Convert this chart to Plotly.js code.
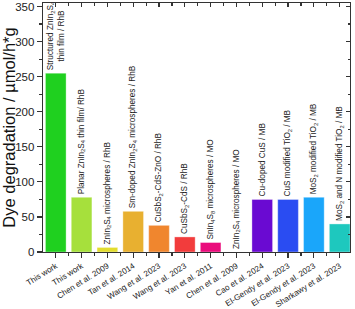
<!DOCTYPE html>
<html><head><meta charset="utf-8">
<script src="https://cdn.plot.ly/plotly-3.0.1.min.js"></script>
<style>html,body{margin:0;padding:0;background:#fff}#chart{width:355px;height:309px}</style>
</head><body><div id="chart"></div>
<script>
const categories = ["This work", "This work", "Chen et al. 2009", "Tan et al. 2014", "Wang et al. 2023", "Wang et al. 2023",
  "Yan et al. 2011", "Chen et al. 2009", "Cao et al. 2024", "El-Gendy et al. 2023", "El-Gendy et al. 2023", "Sharkawy et al. 2023"];
const values = [255, 78, 6.5, 58, 38, 21.5, 13.5, 0, 75, 75, 78, 40];
const barLabels = [
  "Structured ZnIn<sub>2</sub>S<sub>4</sub><br>thin film / RhB",
  "Planar ZnIn<sub>2</sub>S<sub>4</sub> thin film/ RhB",
  "ZnIn<sub>2</sub>S<sub>4</sub> microspheres / RhB",
  "Sm-doped ZnIn<sub>2</sub>S<sub>4</sub> microspheres / RhB",
  "CuSbS<sub>2</sub>-CdS-ZnO / RhB",
  "CuSbS<sub>2</sub>-CdS / RhB",
  "SnIn<sub>4</sub>S<sub>8</sub> microspheres / MO",
  "ZnIn<sub>2</sub>S<sub>4</sub> microspheres / MO",
  "Cu-doped CuS / MB",
  "CuS modified TiO<sub>2</sub> / MB",
  "MoS<sub>2</sub> modified TiO<sub>2</sub> / MB",
  "MoS<sub>2</sub> and N modified TiO<sub>2</sub> / MB"
];
const barColors = ["#1fd01f", "#a6e03c", "#e2dc2e", "#e8b030", "#f0862e", "#f23c3c",
  "#ea0c7c", "#cccccc", "#6a0ad2", "#2a4cf2", "#1aa6fa", "#1ec8be"];
const yTicks = [0, 50, 100, 150, 200, 250, 300, 350];
const yTitle = "Dye degradation / µmol/h*g";

const idx = categories.map((c, i) => i);
const xr = [-0.495, 11.4];
const yr = [0, 355];
const axisCol = "#333";

const bars = {
  type: "bar", x: idx, y: values,
  text: barLabels, textposition: "outside", textangle: -90,
  constraintext: "none", cliponaxis: false,
  textfont: {family: "Liberation Sans, Arial, sans-serif", size: 8.2, color: "#222"},
  marker: {color: barColors, line: {color: "rgba(255,255,255,0.35)", width: 1}},
  hoverinfo: "none", showlegend: false
};
const ghost = {type: "scatter", x: [], y: [], xaxis: "x2", yaxis: "y2", showlegend: false, hoverinfo: "none"};

const layout = {
  width: 355, height: 309,
  margin: {l: 43, r: 5, t: 3, b: 57, pad: 0},
  paper_bgcolor: "#fff", plot_bgcolor: "#fff",
  bargap: 0.2,
  font: {family: "Liberation Sans, Arial, sans-serif", color: "#222"},
  xaxis: {
    type: "linear", range: xr, tickmode: "array", tickvals: idx, ticktext: categories,
    tickangle: -32, tickfont: {size: 8.1, color: "#222"},
    ticks: "outside", ticklen: 5, tickwidth: 1.2, tickcolor: axisCol,
    minor: {tickmode: "linear", tick0: 0.5, dtick: 1, ticks: "outside", ticklen: 3, tickwidth: 1.2, tickcolor: axisCol, showgrid: false},
    showline: true, linecolor: axisCol, linewidth: 1.3, showgrid: false, zeroline: false, fixedrange: true
  },
  xaxis2: {
    type: "linear", overlaying: "x", side: "top", range: xr, tickmode: "array", tickvals: idx,
    showticklabels: false, ticks: "inside", ticklen: 4, tickwidth: 1.2, tickcolor: axisCol,
    minor: {tickmode: "linear", tick0: 0.5, dtick: 1, ticks: "inside", ticklen: 2.5, tickwidth: 1.2, tickcolor: axisCol, showgrid: false},
    showline: true, linecolor: axisCol, linewidth: 1.3, showgrid: false, zeroline: false, fixedrange: true
  },
  yaxis: {
    range: yr, tickmode: "array", tickvals: yTicks, tickfont: {size: 11.5, color: "#222"},
    ticks: "outside", ticklen: 5, tickwidth: 1.2, tickcolor: axisCol,
    minor: {tickmode: "linear", tick0: 25, dtick: 50, ticks: "outside", ticklen: 3, tickwidth: 1.2, tickcolor: axisCol, showgrid: false},
    showline: true, linecolor: axisCol, linewidth: 1.3, showgrid: false, zeroline: false,
    title: {text: yTitle, font: {size: 16.5, color: "#111"}, standoff: 3}, automargin: false, fixedrange: true
  },
  yaxis2: {
    range: yr, overlaying: "y", side: "right", tickmode: "array", tickvals: yTicks, showticklabels: false,
    ticks: "inside", ticklen: 4, tickwidth: 1.2, tickcolor: axisCol,
    minor: {tickmode: "linear", tick0: 25, dtick: 50, ticks: "inside", ticklen: 2.5, tickwidth: 1.2, tickcolor: axisCol, showgrid: false},
    showline: true, linecolor: axisCol, linewidth: 1.3, showgrid: false, zeroline: false, fixedrange: true
  }
};
Plotly.newPlot("chart", [bars, ghost], layout, {displayModeBar: false, staticPlot: true});
</script></body></html>
